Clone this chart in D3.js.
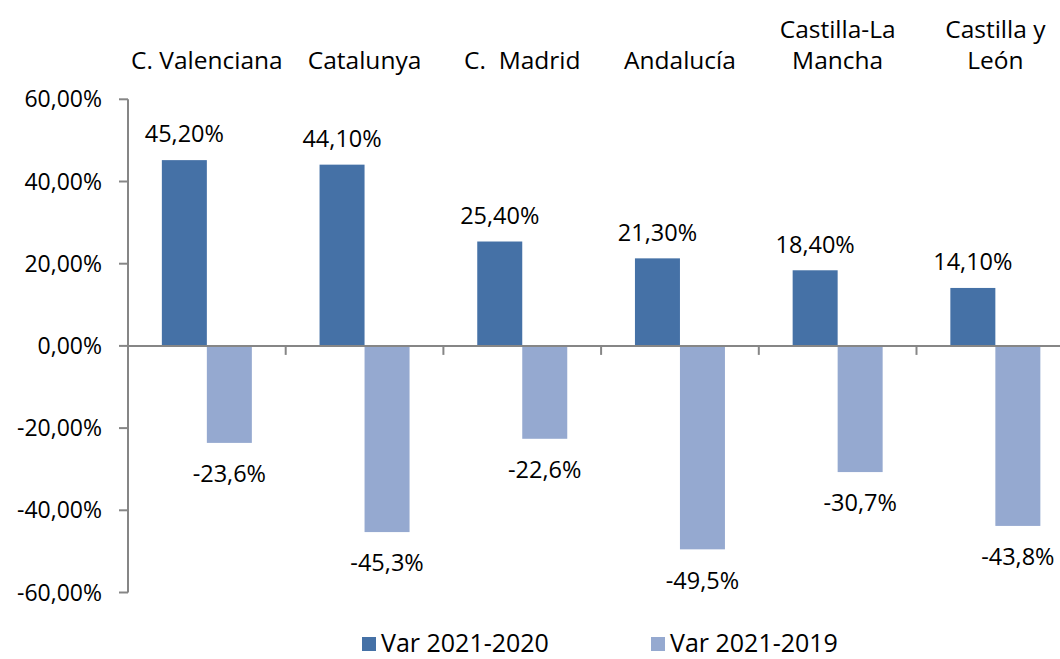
<!DOCTYPE html>
<meta charset="utf-8">
<style>
  body { margin: 0; background: #fff; }
  text { font-family: "Open Sans", sans-serif; fill: #000; white-space: pre; }
</style>
<body>
<div id="chart"></div>
<script src="https://d3js.org/d3.v7.min.js"></script>
<script>
// data
var regions = [["C. Valenciana"], ["Catalunya"], ["C.  Madrid"], ["Andalucía"], ["Castilla-La", "Mancha"], ["Castilla y", "León"]];
var var2020 = [45.2, 44.1, 25.4, 21.3, 18.4, 14.1];
var var2019 = [-23.6, -45.3, -22.6, -49.5, -30.7, -43.8];
var label2020 = ["45,20%", "44,10%", "25,40%", "21,30%", "18,40%", "14,10%"];
var label2019 = ["-23,6%", "-45,3%", "-22,6%", "-49,5%", "-30,7%", "-43,8%"];
var yTicks = [-60, -40, -20, 0, 20, 40, 60];
var seriesNames = ["Var 2021-2020", "Var 2021-2019"];
var colors = ["#4571a6", "#95a9d0"];

var width = 1060, height = 659;
var svg = d3.select("#chart").append("svg")
  .attr("width", width).attr("height", height);

var x = d3.scaleBand()
  .domain(d3.range(regions.length))
  .range([128, 128 + 6 * 157.7]);

var y = d3.scaleLinear().domain([-60, 60]).range([592.5, 99.3]);

var barW = 45;

// y axis
svg.append("line")
  .attr("x1", 128).attr("x2", 128)
  .attr("y1", y(60)).attr("y2", y(-60))
  .attr("stroke", "#868686").attr("stroke-width", 2);

svg.selectAll(".ytick").data(yTicks).enter().append("line")
  .attr("x1", 119).attr("x2", 128)
  .attr("y1", function(d) { return y(d); })
  .attr("y2", function(d) { return y(d); })
  .attr("stroke", "#868686").attr("stroke-width", 2);

svg.selectAll(".ylab").data(yTicks).enter().append("text")
  .attr("x", 102).attr("y", function(d) { return y(d); })
  .attr("dy", "0.35em")
  .attr("text-anchor", "end")
  .style("font-size", "23px")
  .text(function(d) { return d + ",00%"; });

// bars
var g = svg.selectAll(".grp").data(regions).enter().append("g")
  .attr("transform", function(d, i) { return "translate(" + (x(i) + x.bandwidth() / 2) + ",0)"; });

g.append("rect")
  .attr("x", -barW)
  .attr("width", barW)
  .attr("y", function(d, i) { return y(var2020[i]); })
  .attr("height", function(d, i) { return y(0) - y(var2020[i]); })
  .attr("fill", colors[0]);

g.append("rect")
  .attr("x", 0)
  .attr("width", barW)
  .attr("y", y(0))
  .attr("height", function(d, i) { return y(var2019[i]) - y(0); })
  .attr("fill", colors[1]);

// zero line + category ticks
svg.append("line")
  .attr("x1", 128).attr("x2", width)
  .attr("y1", y(0)).attr("y2", y(0))
  .attr("stroke", "#868686").attr("stroke-width", 2);

svg.selectAll(".xtick").data(d3.range(1, regions.length)).enter().append("line")
  .attr("x1", function(d) { return x(d); })
  .attr("x2", function(d) { return x(d); })
  .attr("y1", y(0)).attr("y2", y(0) + 9)
  .attr("stroke", "#868686").attr("stroke-width", 2);

// value labels
g.append("text")
  .attr("x", -barW / 2)
  .attr("y", function(d, i) { return y(var2020[i]) - 26; })
  .attr("dy", "0.35em")
  .attr("text-anchor", "middle")
  .style("font-size", "23.5px")
  .text(function(d, i) { return label2020[i]; });

g.append("text")
  .attr("x", barW / 2)
  .attr("y", function(d, i) { return y(var2019[i]) + 31; })
  .attr("dy", "0.35em")
  .attr("text-anchor", "middle")
  .style("font-size", "23.5px")
  .text(function(d, i) { return label2019[i]; });

// category names on top
g.each(function(d) {
  var sel = d3.select(this);
  var n = d.length;
  d.forEach(function(line, k) {
    sel.append("text")
      .attr("x", 0)
      .attr("y", 60 - (n - 1 - k) * 31)
      .attr("dy", "0.35em")
      .attr("text-anchor", "middle")
      .style("font-size", "24.5px")
      .text(line);
  });
});

// legend
var legX = [362, 651];
seriesNames.forEach(function(name, i) {
  svg.append("rect")
    .attr("x", legX[i]).attr("y", 637)
    .attr("width", 14).attr("height", 14)
    .attr("fill", colors[i]);
  svg.append("text")
    .attr("x", legX[i] + 19).attr("y", 643)
    .attr("dy", "0.35em")
    .style("font-size", "25px")
    .text(name);
});
</script>
</body>
